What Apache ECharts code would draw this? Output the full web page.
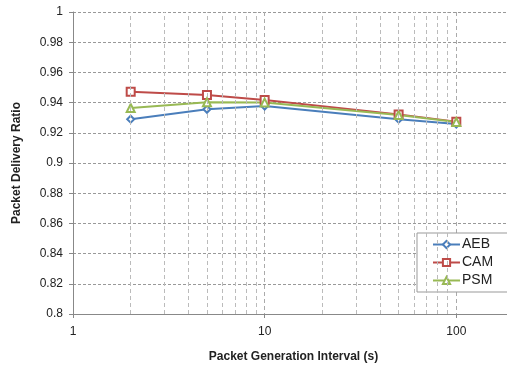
<!DOCTYPE html>
<html>
<head>
<meta charset="utf-8">
<script src="https://cdn.jsdelivr.net/npm/echarts@6/dist/echarts.min.js"></script>
<style>
  html, body { margin: 0; padding: 0; background: #fff; }
  #chart { width: 507px; height: 373px; }
</style>
</head>
<body>
<div id="chart"></div>
<script>
// packet generation interval (s)
const intervals = [2, 5, 10, 50, 100];
// packet delivery ratio per scheme
const aeb = [0.929, 0.9356, 0.9377, 0.929, 0.9258];
const cam = [0.9472, 0.945, 0.9417, 0.9322, 0.9274];
const psm = [0.9364, 0.9402, 0.9400, 0.9318, 0.9272];
// minor grid lines of the log axis
const minorTicks = [2, 3, 4, 5, 6, 7, 8, 9, 20, 30, 40, 50, 60, 70, 80, 90];
// labelled ticks on x
const xLabels = [1, 10, 100];

const pairs = (ys) => intervals.map((x, i) => [x, ys[i]]);

const chart = echarts.init(document.getElementById("chart"));

const lineSeries = (name, ys, color, symbol, size) => ({
  name: name,
  type: "line",
  data: pairs(ys),
  symbol: symbol,
  symbolSize: size,
  z: 3,
  lineStyle: { color: color, width: 2 },
  itemStyle: { color: color, borderWidth: 1 },
});

chart.setOption({
  animation: false,
  textStyle: { fontFamily: "Liberation Sans, Arial, sans-serif" },
  grid: { left: 73, top: 12, right: -7, bottom: 59, outerBoundsMode: "none", containLabel: false },
  legend: {
    orient: "vertical",
    left: 417,
    top: 233,
    itemWidth: 27,
    itemHeight: 9,
    itemGap: 3,
    padding: [4, 30, 4, 15],
    backgroundColor: "#fff",
    borderColor: "#999",
    borderWidth: 1,
    borderRadius: 0,
    textStyle: { fontSize: 14, lineHeight: 15, color: "#222", padding: [0, 0, 0, -3] },
    data: ["AEB", "CAM", "PSM"],
  },
  xAxis: {
    type: "log",
    logBase: 10,
    min: 1,
    max: 200,
    name: "Packet Generation Interval (s)",
    nameLocation: "middle",
    nameGap: 37,
    nameTextStyle: { fontWeight: "bold", fontSize: 12, color: "#222" },
    axisLine: { lineStyle: { color: "#888" } },
    axisTick: { show: true, length: 4, lineStyle: { color: "#888" } },
    axisLabel: {
      color: "#222",
      fontSize: 12,
      margin: 12,
      showMaxLabel: false,
      formatter: (v) => (xLabels.includes(v) ? String(v) : ""),
    },
    splitLine: { show: true, lineStyle: { color: "#aaa", type: [4, 3] } },
  },
  yAxis: {
    type: "value",
    min: 0.8,
    max: 1,
    interval: 0.02,
    name: "Packet Delivery Ratio",
    nameLocation: "middle",
    nameGap: 50,
    nameTextStyle: { fontWeight: "bold", fontSize: 12, color: "#222" },
    axisLine: { show: true, lineStyle: { color: "#888" } },
    axisTick: { show: true, length: 4, lineStyle: { color: "#888" } },
    axisLabel: { color: "#222", fontSize: 12, margin: 10 },
    splitLine: { show: true, lineStyle: { color: "#999", type: [3, 2] } },
  },
  series: [
    {
      name: "grid",
      type: "line",
      data: [],
      silent: true,
      z: 1,
      markLine: {
        silent: true,
        symbol: "none",
        label: { show: false },
        lineStyle: { color: "#bbb", type: [4, 3], width: 1 },
        data: minorTicks.map((v) => ({ xAxis: v })),
      },
    },
    lineSeries("AEB", aeb, "#4a7ebb", "emptyDiamond", 7),
    lineSeries("CAM", cam, "#be4b48", "emptyRect", 8),
    lineSeries("PSM", psm, "#98b954", "emptyTriangle", 8),
  ],
});
</script>
</body>
</html>
